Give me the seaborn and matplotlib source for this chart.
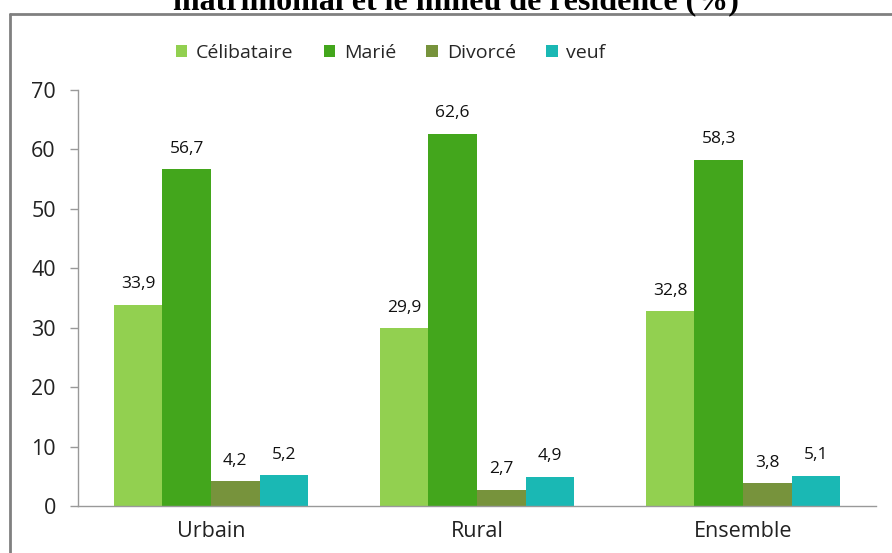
import matplotlib
matplotlib.use("Agg")
import matplotlib.pyplot as plt
import seaborn as sns
import pandas as pd
from matplotlib.patches import Patch
from matplotlib.lines import Line2D

categories = ["Urbain", "Rural", "Ensemble"]
series = ["Célibataire", "Marié", "Divorcé", "veuf"]
celibataire = [33.9, 29.9, 32.8]
marie = [56.7, 62.6, 58.3]
divorce = [4.2, 2.7, 3.8]
veuf = [5.2, 4.9, 5.1]
colors = ["#92D050", "#43A61C", "#77933C", "#1AB8B4"]
yticks = [0, 10, 20, 30, 40, 50, 60, 70]
title = "matrimonial et le milieu de résidence (%)"

rows = []
for name, vals in zip(series, [celibataire, marie, divorce, veuf]):
    for c, v in zip(categories, vals):
        rows.append({"milieu": c, "statut": name, "valeur": v})
df = pd.DataFrame(rows)

sns.set_theme(style="white")
plt.rcParams["font.family"] = ["Open Sans", "DejaVu Sans"]

W, H = 892, 553
fig = plt.figure(figsize=(W / 100, H / 100), dpi=100)
ax = fig.add_axes([78 / W, 1 - 506 / H, (876 - 78) / W, (506 - 90) / H])

sns.barplot(data=df, x="milieu", y="valeur", hue="statut", order=categories,
            hue_order=series, palette=colors, width=0.73, gap=0,
            saturation=1, ax=ax, legend=False, linewidth=0)

for cont in ax.containers:
    labels = [f"{v:.1f}".replace(".", ",") for v in cont.datavalues]
    ax.bar_label(cont, labels=labels, padding=9, fontsize=12.5,
                 fontweight="medium", color="#111111")

ax.set_ylim(0, 70)
ax.set_xlim(-0.5, 2.5)
ax.set_yticks(yticks)
ax.set_yticklabels([str(t) for t in yticks], fontsize=15.5, color="#222222")
ax.set_xticks(range(len(categories)))
ax.set_xticklabels(categories, fontsize=15.5, color="#222222")
ax.set_xticks([-0.5, 0.5, 1.5, 2.5], minor=True)
ax.tick_params(axis="x", which="major", length=0, pad=11)
ax.tick_params(axis="x", which="minor", length=6, color="#999999", width=1, direction="out")
ax.tick_params(axis="y", length=6, color="#999999", width=1, direction="out", pad=10, left=True)
ax.set_xlabel("")
ax.set_ylabel("")
for s in ["top", "right"]:
    ax.spines[s].set_visible(False)
for s in ["left", "bottom"]:
    ax.spines[s].set_color("#999999")
    ax.spines[s].set_linewidth(1)

handles = [Patch(facecolor=c, edgecolor="none") for c in colors]
fig.legend(handles, series, loc="center left", bbox_to_anchor=(158 / W, 1 - 53 / H),
           ncol=4, frameon=False, fontsize=14, handlelength=0.6, handleheight=0.6,
           handletextpad=0.45, columnspacing=1.55)

# outer frame
fig.add_artist(Line2D([10 / W, 10 / W], [0, 1 - 14 / H], transform=fig.transFigure,
                      color="#808080", linewidth=2))
fig.add_artist(Line2D([10 / W, 1], [1 - 14 / H, 1 - 14 / H], transform=fig.transFigure,
                      color="#808080", linewidth=2))

fig.text(456 / W, 1 - 9 / H, title, ha="center", va="baseline",
         fontfamily="Liberation Serif", fontweight="bold", fontsize=23, color="black")

fig.savefig("out.png", dpi=100)
